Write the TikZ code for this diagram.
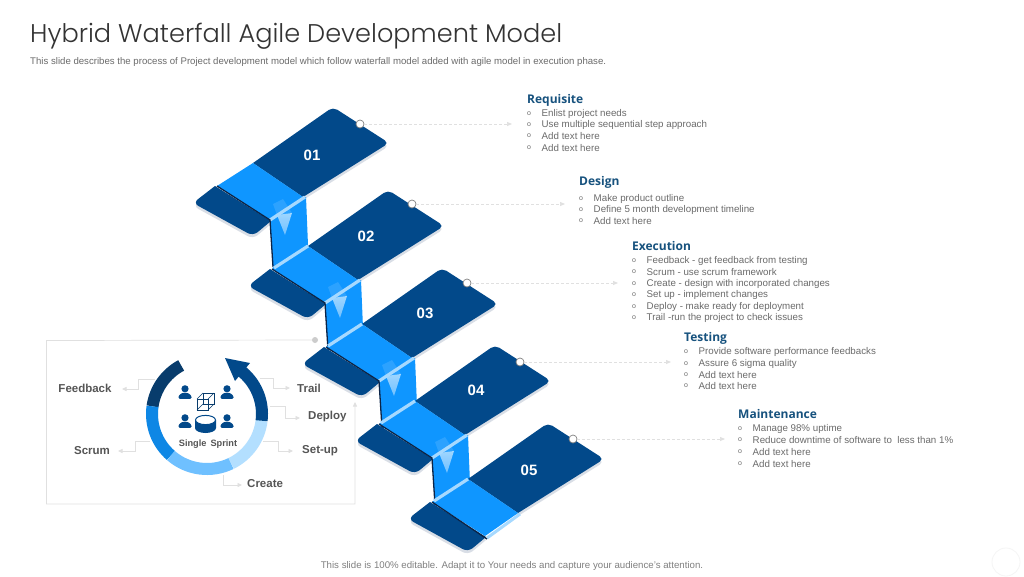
\documentclass[tikz,border=0pt]{standalone}
\usepackage{fontspec}
\setmainfont{Liberation Sans}
\newfontfamily\titlefont[UprightFont=* Light]{Poppins}
\newfontfamily\headfont{Open Sans}
\usetikzlibrary{arrows.meta}
\definecolor{navy}{HTML}{02498A}
\definecolor{navyd}{HTML}{083C6C}
\definecolor{bright}{HTML}{0F96FF}
\definecolor{stripe}{HTML}{A6D9FF}
\definecolor{shadowc}{HTML}{D9DEE6}
\definecolor{edgec}{HTML}{0B2447}
\definecolor{headc}{HTML}{17527E}
\definecolor{bodyc}{HTML}{6B6B6B}
\definecolor{linec}{HTML}{E0E0E0}
\definecolor{labelc}{HTML}{555555}
\tikzset{
  body/.style={anchor=west,inner sep=0pt,font=\fontsize{9.75}{11}\selectfont,text=bodyc},
  bulletmark/.style={anchor=center,inner sep=0pt,font=\fontsize{7}{8}\selectfont,text=bodyc},
  heading/.style={anchor=west,inner sep=0pt,font=\headfont\bfseries\fontsize{12}{14}\selectfont,text=headc},
  numlabel/.style={anchor=center,inner sep=0pt,font=\bfseries\fontsize{15}{16}\selectfont,text=white},
  sprintlabel/.style={inner sep=0pt,font=\bfseries\fontsize{11.5}{13}\selectfont,text=labelc},
  pin/.style={circle,draw=black!50,fill=white,line width=.7pt,minimum size=8pt,inner sep=0pt},
  dashconn/.style={draw=linec,line width=.7pt,densely dashed,-{Triangle[length=5pt,width=4pt,fill=linec]}},
  elbow/.style={draw=linec,line width=.7pt,-{Triangle[length=4.5pt,width=4pt,fill=linec]}},
  ringseg/.style={line width=12pt},
}
\newcommand{\upperflap}[1]{%
  \fill[#1] (-80,54) [rounded corners=5pt] -- (0,-2) -- (56,34) [sharp corners] -- (-30,88) -- cycle;
}
\newcommand{\lowerflap}[1]{%
  \fill[#1] (-118,77) [rounded corners=6pt] -- (-140,94) -- (-80,127) [sharp corners] -- (-62,112) -- cycle;
}
\newcommand{\stepbase}[2]{%
  \begin{scope}[shift={(#1,#2)}]
    \begin{scope}[yshift=-3pt]
      \upperflap{shadowc}\lowerflap{shadowc}
    \end{scope}
    \lowerflap{navy}
    \upperflap{navy}
    \fill[bright] (-80,54) -- (-30,88) -- (-63,111) -- (-116,77) -- cycle;
  \end{scope}
}
\newcommand{\drop}[2]{%
  \begin{scope}[shift={(#1,#2)}]
    \fill[bright] (-63,111) -- (-27,88) -- (-25,136) -- (-60,159) -- cycle;
    \fill[white,opacity=.12] (-60,95) -- (-50,90) -- (-41,104) -- (-56,106) -- cycle;
    \shade[top color=stripe!90!white,bottom color=bright!55!white,opacity=.9] (-56,106) -- (-41,104) -- (-48,126) -- cycle;
    \draw[stripe,line width=3.2pt] (-63,111) -- (-28,88);
    \draw[edgec,line width=1.3pt] (-116,77) -- (-63,111) -- (-60,158);
  \end{scope}
}
\newcommand{\topstripe}[2]{%
  \begin{scope}[shift={(#1,#2)}]
    \draw[stripe,line width=3.2pt] (-114,76) -- (-80,54);
  \end{scope}
}
\newcommand{\person}[2]{%
  \begin{scope}[shift={(#1,#2)}]
    \fill[navy] (0,-3.2) circle (3.6);
    \fill[navy,rounded corners=1.2pt] (-6.5,6.8) -- (-6.5,3.8) -- (-2.8,0.8) -- (2.8,0.8) -- (6.5,3.8) -- (6.5,6.8) -- cycle;
  \end{scope}
}
\newcommand{\bul}[4]{%
  \node[bulletmark] (m#4) at (#1,#2) {o};
  \node[body] (t#4) at (#1+12.5,#2) {#3};
}
\begin{document}
\begin{tikzpicture}[x=1pt,y=-1pt]
\useasboundingbox (0,0) rectangle (1024,576);
\fill[white] (0,0) rectangle (1024,576);

% title
\node[anchor=west,inner sep=0pt,text=black!80,font=\titlefont\fontsize{25.6}{30}\selectfont] (title) at (30,36) {Hybrid Waterfall Agile Development Model};
\node[anchor=west,inner sep=0pt,text=bodyc,font=\fontsize{9.63}{11}\selectfont] (sub) at (30,62) {This slide describes the process of Project development model which follow waterfall model added with agile model in execution phase.};
\node[anchor=center,inner sep=0pt,text=black!50,font=\fontsize{9.68}{11}\selectfont] (foot) at (512,566) {This slide is 100\% editable. Adapt it to Your needs and capture your audience’s attention.};
\node[circle,draw=black!4,line width=.8pt,minimum size=28pt,inner sep=0pt] (mark) at (1006,562) {};

% steps
\stepbase{333}{109}
\drop{333}{109}
\stepbase{388}{192}
\topstripe{388}{192}
\drop{388}{192}
\stepbase{442}{270}
\topstripe{442}{270}
\drop{442}{270}
\stepbase{495}{347}
\topstripe{495}{347}
\drop{495}{347}
\stepbase{548}{425}
\topstripe{548}{425}
\begin{scope}[shift={(548,425)}]
  \draw[stripe,line width=3pt] (-61,113) -- (-28,89);
  \draw[edgec,line width=1.3pt] (-116,77) -- (-61,114);
\end{scope}

\node[numlabel] (n1) at (312,155) {01};
\node[numlabel] (n2) at (366,236) {02};
\node[numlabel] (n3) at (425,313) {03};
\node[numlabel] (n4) at (476,390) {04};
\node[numlabel] (n5) at (529,470) {05};

\node[pin] (p1) at (360,124) {};
\node[pin] (p2) at (412,204) {};
\node[pin] (p3) at (467,283) {};
\node[pin] (p4) at (520,362) {};
\node[pin] (p5) at (573,439) {};
\coordinate (e1) at (512,124);
\coordinate (e2) at (565,204);
\coordinate (e3) at (618,283);
\coordinate (e4) at (671,362);
\coordinate (e5) at (725,439);
\foreach \i in {1,...,5} \draw[dashconn] (p\i) -- (e\i);

% right text
\node[heading] (h1) at (527,100) {Requisite};
\bul{529}{114}{Enlist project needs}{a}
\bul{529}{125}{Use multiple sequential step approach}{b}
\bul{529}{136}{Add text here}{c}
\bul{529}{148}{Add text here}{d}
\node[heading] (h2) at (579,182) {Design};
\bul{581}{199}{Make product outline}{e}
\bul{581}{210}{Define 5 month development timeline}{f}
\bul{581}{221}{Add text here}{g}
\node[heading] (h3) at (632,246) {Execution};
\bul{634}{261}{Feedback - get feedback from testing}{h}
\bul{634}{272}{Scrum - use scrum framework}{i}
\bul{634}{284}{Create -  design with incorporated changes}{j}
\bul{634}{295}{Set up - implement changes}{k}
\bul{634}{307}{Deploy - make ready for deployment}{l}
\bul{634}{318}{Trail -run the project to check issues}{m}
\node[heading] (h4) at (684,338) {Testing};
\bul{686}{352}{Provide software performance feedbacks}{n}
\bul{686}{364}{Assure 6 sigma quality}{o}
\bul{686}{375}{Add text here}{p}
\bul{686}{386}{Add text here}{q}
\node[heading] (h5) at (738,414) {Maintenance};
\bul{740}{429}{Manage 98\% uptime}{r}
\bul{740}{440}{Reduce downtime of software to\ \ less than 1\%}{s}
\bul{740}{452}{Add text here}{t}
\bul{740}{464}{Add text here}{u}

% sprint frame
\node[circle,fill=black!20,minimum size=6pt,inner sep=0pt] (fdot) at (315,340) {};
\coordinate (fend) at (355,402);
\draw[elbow] (fdot) -- (46.5,340.5) -- (46.5,504) -- (355,504) -- (fend);

% ring
\begin{scope}[shift={(207,414)},x=1pt,y=1pt]
  \draw[ringseg,navyd] (118:55) arc (118:172:55);
  \draw[ringseg,bright!90!black] (172:55) arc (172:229:55);
  \draw[ringseg,bright!60!white] (229:55) arc (229:296:55);
  \draw[ringseg,stripe!85!white] (296:55) arc (296:353:55);
  \draw[ringseg,navy] (353:55) arc (353:413:55);
\end{scope}
\fill[navy] (225,358) -- (250,363) -- (235,381) -- cycle;

% sprint labels
\node[sprintlabel,anchor=center] (lf) at (85,388) {Feedback};
\node[sprintlabel,anchor=center] (ls) at (92,451) {Scrum};
\node[sprintlabel,anchor=west] (lt) at (297,388) {Trail};
\node[sprintlabel,anchor=west] (ld) at (308,417) {Deploy};
\node[sprintlabel,anchor=west] (lu) at (302,451) {Set-up};
\node[sprintlabel,anchor=west] (lc) at (247,484) {Create};
\coordinate (rf) at (155,379);
\coordinate (rs) at (150,441);
\coordinate (rt) at (260,378);
\coordinate (rd) at (270,406);
\coordinate (ru) at (263,441);
\coordinate (rc) at (223,475);
\draw[elbow] (rf) -- (138,379) -- (138,389) -- (122,389);
\draw[elbow] (rs) -- (135,441) -- (135,451) -- (118,451);
\draw[elbow] (rt) -- (273,378) -- (273,388) -- (290,388);
\draw[elbow] (rd) -- (285,406) -- (285,418) -- (300,418);
\draw[elbow] (ru) -- (278,441) -- (278,451) -- (293,451);
\draw[elbow] (rc) -- (223,485) -- (242,485);

% sprint icons
\person{185}{392}
\person{227}{392}
\person{185}{421}
\person{227}{421}
\begin{scope}[draw=navyd,line width=.6pt]
  \draw (197,399) rectangle (208,410);
  \draw (203,393) rectangle (214,404);
  \draw (197,399) -- (203,393) (208,399) -- (214,393) (208,410) -- (214,404) (197,410) -- (203,404);
\end{scope}
\fill[navy] (195,420) -- (195,428) arc (180:0:10.5 and 5) -- (216,420) -- cycle;
\draw[navy,fill=white,line width=1pt] (205.5,420) ellipse (10 and 4.6);
\node[inner sep=0pt,text=labelc,font=\bfseries\fontsize{9.2}{10}\selectfont] (sp) at (208,444) {Single\, Sprint};
\end{tikzpicture}
\end{document}
